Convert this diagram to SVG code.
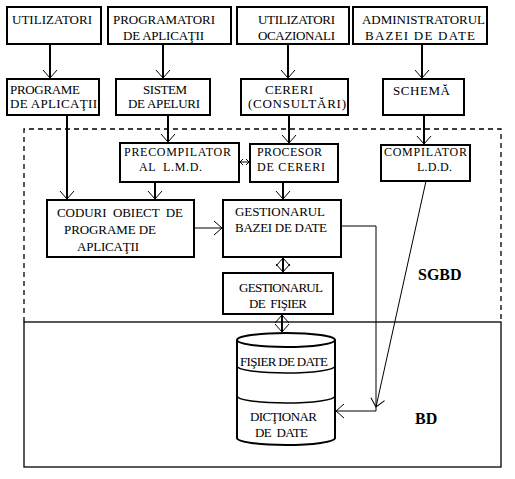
<svg xmlns="http://www.w3.org/2000/svg" width="515" height="479" viewBox="0 0 515 479">
<style>
  .box{fill:#fff;stroke:#000;stroke-width:2}
  .t{font-family:"Liberation Serif","Times New Roman",serif;font-size:13px;fill:#000}
  .s{font-family:"Liberation Serif","Times New Roman",serif;font-size:12px;fill:#000}
  .b{font-family:"Liberation Serif","Times New Roman",serif;font-size:16px;font-weight:bold;fill:#000}
  .thick{fill:none;stroke:#000;stroke-width:2}
  .thin{fill:none;stroke:#000;stroke-width:1}
  .cyl{fill:#fff;stroke:#000;stroke-width:2}
</style>
<defs>
  <marker id="a" markerUnits="userSpaceOnUse" markerWidth="20" markerHeight="20" viewBox="-10 -10 20 20" refX="0" refY="0" orient="auto-start-reverse" overflow="visible">
    <path d="M-8,-7 L0,0 L-8,7" fill="none" stroke="#000" stroke-width="1"/>
  </marker>
  <marker id="sm" markerUnits="userSpaceOnUse" markerWidth="10" markerHeight="10" viewBox="-5 -5 10 10" refX="0" refY="0" orient="auto-start-reverse" overflow="visible">
    <path d="M-3,-3 L0,0 L-3,3" fill="none" stroke="#000" stroke-width="1"/>
  </marker>
</defs>
<rect width="515" height="479" fill="#fff"/>
<g id="regions">
  <path d="M24,322 V129 H501 V322" fill="none" stroke="#000" stroke-width="1.3" stroke-dasharray="5 4"/>
  <rect x="24" y="322" width="477" height="145" fill="none" stroke="#000" stroke-width="1.3"/>
  <text class="b" x="418" y="280">SGBD</text>
  <text class="b" x="415" y="424">BD</text>
</g>
<g id="connectors">
  <path class="thick" d="M50,44 V78" marker-end="url(#a)"/>
  <path class="thick" d="M163,44 V78" marker-end="url(#a)"/>
  <path class="thick" d="M288,44 V78" marker-end="url(#a)"/>
  <path class="thick" d="M422,44 V78" marker-end="url(#a)"/>
  <path class="thick" d="M67,115 V199" marker-end="url(#a)"/>
  <path class="thick" d="M168,115 V142" marker-end="url(#a)"/>
  <path class="thick" d="M289,115 V143" marker-end="url(#a)"/>
  <path class="thick" d="M424,115 V144" marker-end="url(#a)"/>
  <path class="thick" d="M155,182 V199" marker-end="url(#a)"/>
  <path class="thick" d="M283,182 V199" marker-end="url(#a)"/>
  <path class="thin" d="M194,228 H222" marker-end="url(#a)"/>
  <path class="thin" d="M240,162 H249" marker-start="url(#sm)" marker-end="url(#sm)"/>
  <path class="thick" d="M283,258 V272" marker-start="url(#a)" marker-end="url(#a)"/>
  <path class="thick" d="M282,315 V332" marker-start="url(#a)" marker-end="url(#a)"/>
  <path class="thin" d="M341,226 H376 V411 H336" marker-end="url(#a)"/>
  <path class="thin" d="M426,181 L376,407" marker-end="url(#a)"/>
</g>
<g id="n1"><rect class="box" x="7" y="7" width="94" height="37"/><text class="t" x="12" y="24" textLength="80">UTILIZATORI</text></g>
<g id="n2"><rect class="box" x="108" y="7" width="123" height="37"/><text class="t" x="113" y="24" textLength="102">PROGRAMATORI</text><text class="t" x="123" y="40" textLength="81">DE APLICAŢII</text></g>
<g id="n3"><rect class="box" x="237" y="7" width="112" height="37"/><text class="t" x="258" y="24" textLength="77">UTILIZATORI</text><text class="t" x="258" y="40" textLength="77">OCAZIONALI</text></g>
<g id="n4"><rect class="box" x="353" y="7" width="134" height="37"/><text class="t" x="362" y="24" textLength="123">ADMINISTRATORUL</text><text class="t" x="365" y="40" textLength="110">BAZEI DE DATE</text></g>
<g id="n5"><rect class="box" x="7" y="79" width="92" height="36"/><text class="t" x="10" y="94" textLength="70">PROGRAME</text><text class="t" x="10" y="108" textLength="87">DE APLICAŢII</text></g>
<g id="n6"><rect class="box" x="116" y="79" width="94" height="36"/><text class="t" x="143" y="94" textLength="44">SISTEM</text><text class="t" x="128" y="108" textLength="72">DE APELURI</text></g>
<g id="n7"><rect class="box" x="241" y="79" width="107" height="36"/><text class="t" x="265" y="94" textLength="48">CERERI</text><text class="t" x="248" y="108" textLength="98">(CONSULTĂRI)</text></g>
<g id="n8"><rect class="box" x="383" y="79" width="81" height="36"/><text class="t" x="393" y="95" textLength="57">SCHEMĂ</text></g>
<g id="n9"><rect class="box" x="120" y="143" width="119" height="39"/><text class="s" x="124" y="156" textLength="107">PRECOMPILATOR</text><text class="s" x="139" y="171" textLength="63" xml:space="preserve">AL  L.M.D.</text></g>
<g id="n10"><rect class="box" x="250" y="144" width="88" height="38"/><text class="s" x="257" y="156" textLength="65">PROCESOR</text><text class="s" x="257" y="171" textLength="68">DE CERERI</text></g>
<g id="n11"><rect class="box" x="381" y="145" width="89" height="36"/><text class="s" x="384" y="156" textLength="83">COMPILATOR</text><text class="s" x="417" y="171" textLength="35">L.D.D.</text></g>
<g id="n12"><rect class="box" x="47" y="200" width="147" height="57"/><text class="t" x="57" y="217" textLength="126" xml:space="preserve">CODURI  OBIECT  DE</text><text class="t" x="64" y="234" textLength="92">PROGRAME DE</text><text class="t" x="77" y="251" textLength="62">APLICAŢII</text></g>
<g id="n13"><rect class="box" x="223" y="200" width="118" height="57"/><text class="t" x="235" y="216" textLength="90">GESTIONARUL</text><text class="t" x="235" y="232" textLength="92">BAZEI DE DATE</text></g>
<g id="n14"><rect class="box" x="223" y="273" width="110" height="41"/><text class="t" x="239" y="292" textLength="84">GESTIONARUL</text><text class="t" x="249" y="308" textLength="58" xml:space="preserve">DE  FIŞIER</text></g>
<g id="n15">
  <path class="cyl" d="M237,340 V438 A49,7 0 0 0 335,438 V340"/>
  <ellipse class="cyl" cx="286" cy="340" rx="49" ry="7"/>
  <path class="thin" style="stroke-width:1.5" d="M237,366 A49,7 0 0 0 335,366"/>
  <path class="thin" style="stroke-width:1.5" d="M237,396 A49,7 0 0 0 335,396"/>
  <text class="t" x="240" y="366" textLength="88">FIŞIER DE DATE</text>
  <text class="t" x="250" y="421" textLength="67">DICŢIONAR</text>
  <text class="t" x="255" y="437" textLength="53" xml:space="preserve">DE  DATE</text>
</g>
</svg>
